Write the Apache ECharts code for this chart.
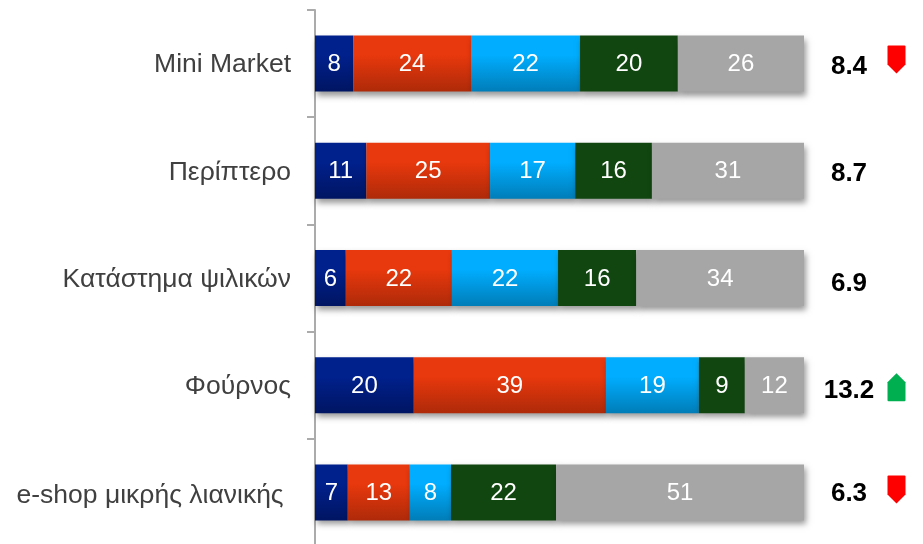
<!DOCTYPE html>
<html>
<head>
<meta charset="utf-8">
<style>
html, body { margin: 0; padding: 0; background: #fff; }
#chart { width: 923px; height: 544px; }
</style>
<script src="https://cdn.jsdelivr.net/npm/echarts@6/dist/echarts.min.js"></script>
</head>
<body>
<div id="chart"></div>
<script>
var categories = ['Mini Market', 'Περίπτερο', 'Κατάστημα ψιλικών', 'Φούρνος', 'e-shop μικρής λιανικής '];
// shares, the labels show them rounded
var seriesA = [7.8, 10.5, 6.3, 20.2, 6.7];
var seriesB = [24.1, 25.3, 21.7, 39.3, 12.7];
var seriesC = [22.3, 17.4, 21.7, 19.0, 8.4];
var seriesD = [20.0, 15.7, 16.0, 9.4, 21.5];
var seriesE = [25.8, 31.1, 34.3, 12.1, 50.7];
var scores = [8.4, 8.7, 6.9, 13.2, 6.3];
var trends = ['down', null, null, 'up', 'down'];

var scoreOffsetY = [3, 3, 5.5, 6, 1];
var markerOffsetY = [-4, 0, 0, 2, -3];
var downPin = 'path://M1 0H17Q18 0 18 1V19L9 28L0 19V1Q0 0 1 0Z';
var upPin = 'path://M9 0L18 9V27Q18 28 17 28H1Q0 28 0 27V9Z';

function gradient(top, bottom) {
    return new echarts.graphic.LinearGradient(0, 0, 0, 1, [
        { offset: 0, color: top },
        { offset: 0.35, color: top },
        { offset: 1, color: bottom }
    ]);
}

function barSeries(data, color) {
    return {
        type: 'bar',
        stack: 'total',
        barWidth: 56,
        data: data,
        itemStyle: {
            color: color,
            shadowColor: 'rgba(0,0,0,0.4)',
            shadowBlur: 6,
            shadowOffsetX: 2,
            shadowOffsetY: 4
        },
        label: {
            show: true,
            position: 'inside',
            offset: [0, 1],
            color: '#fff',
            fontSize: 24,
            fontFamily: 'Liberation Sans',
            formatter: function (p) { return Math.round(p.value); }
        }
    };
}

var catText = { color: '#404040', fontSize: 26.5, fontFamily: 'Liberation Sans' };

var chart = echarts.init(document.getElementById('chart'));
chart.setOption({
    animation: false,
    grid: { left: 315, top: 10, width: 489, height: 536, outerBoundsMode: 'none' },
    xAxis: { type: 'value', min: 0, max: 100, show: false },
    yAxis: {
        type: 'category',
        inverse: true,
        data: categories,
        axisLine: { lineStyle: { color: '#ABABAB', width: 2 } },
        axisTick: { show: true, length: 8, alignWithLabel: false, lineStyle: { color: '#ABABAB', width: 2 } },
        axisLabel: {
            margin: 24,
            color: '#404040',
            fontSize: 26.5,
            fontFamily: 'Liberation Sans',
            // last label sits a little lower in the original
            formatter: function (v, i) {
                return (i === 4 ? '{low|' : '{n|') + v + '}';
            },
            rich: {
                n: Object.assign({ padding: [3, 0, 0, 0] }, catText),
                low: Object.assign({ padding: [6, 0, 0, 0] }, catText)
            }
        }
    },
    series: [
        barSeries(seriesA, gradient('#00208C', '#001562')),
        barSeries(seriesB, gradient('#E8380D', '#AE2A09')),
        barSeries(seriesC, gradient('#00ADFF', '#007DB8')),
        barSeries(seriesD, '#114610'),
        barSeries(seriesE, '#A6A6A6'),
        {
            type: 'scatter',
            symbolSize: 0,
            silent: true,
            itemStyle: { opacity: 1 },
            data: scores.map(function (s, i) {
                return {
                    value: [100, i],
                    label: {
                        show: true,
                        position: 'inside',
                        offset: [45, scoreOffsetY[i]],
                        formatter: s.toFixed(1),
                        color: '#000',
                        fontSize: 26,
                        fontWeight: 'bold',
                        fontFamily: 'Liberation Sans'
                    }
                };
            })
        },
        {
            type: 'scatter',
            silent: true,
            symbolSize: [18, 28],
            itemStyle: { opacity: 1 },
            data: trends.map(function (t, i) {
                if (!t) return null;
                return {
                    value: [100, i],
                    symbol: t === 'up' ? upPin : downPin,
                    symbolOffset: [92.5, markerOffsetY[i]],
                    itemStyle: { color: t === 'up' ? '#00B050' : '#FF0000', opacity: 1 }
                };
            }).filter(function (d) { return d; })
        }
    ]
});
</script>
</body>
</html>
